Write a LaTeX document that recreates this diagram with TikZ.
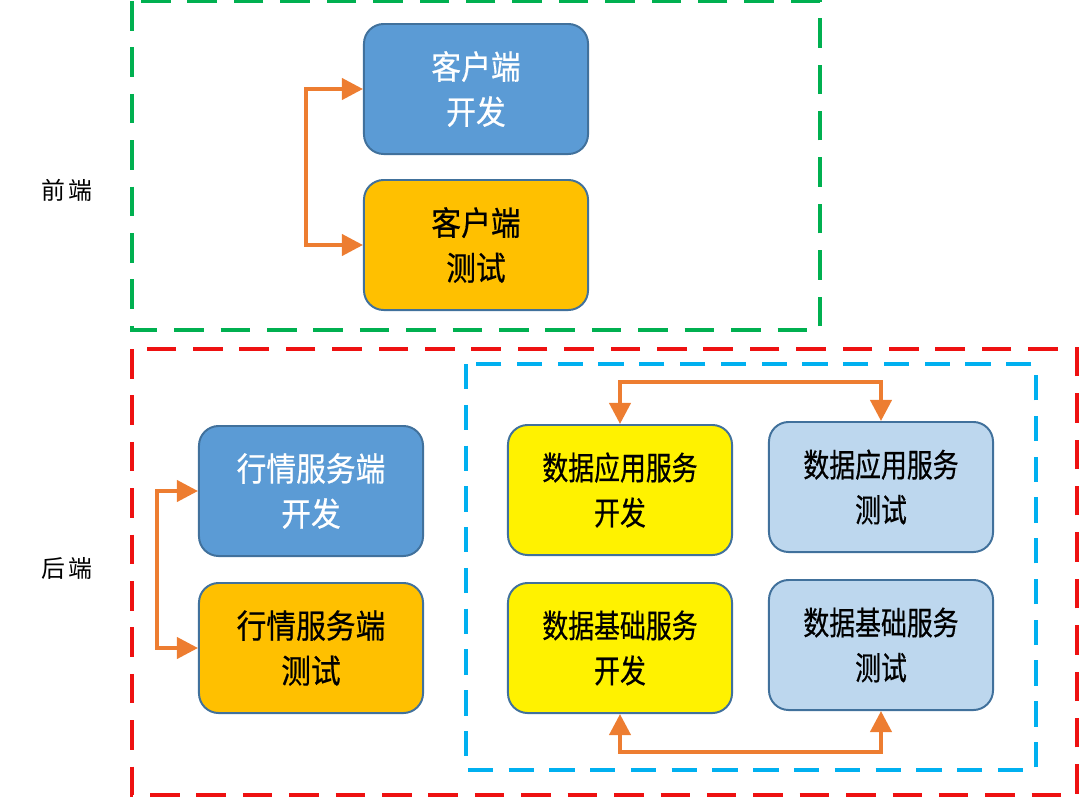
\documentclass[tikz,border=0pt]{standalone}
\usepackage{fontspec}
\setmainfont{Noto Sans CJK SC}
\newfontfamily\boxfont[FakeStretch=0.9,FakeBold=0.5]{Noto Sans CJK SC}
\newfontfamily\datafont[FakeStretch=0.8,FakeBold=0.5]{Noto Sans CJK SC}
\usetikzlibrary{arrows.meta}

\definecolor{devblue}{HTML}{5B9BD5}
\definecolor{edgeblue}{HTML}{41719C}
\definecolor{testorange}{HTML}{FFC000}
\definecolor{lightblue}{HTML}{BDD7EE}
\definecolor{flowline}{HTML}{ED7D31}
\definecolor{frontgreen}{HTML}{00B050}
\definecolor{backred}{HTML}{EE1111}
\definecolor{datacyan}{HTML}{00B0F0}

\tikzset{
    task/.style={draw=edgeblue,line width=1.4pt,rounded corners=14pt,
        minimum width=5.6cm,minimum height=3.25cm,align=center,
        font=\boxfont\fontsize{23.5}{32}\selectfont},
    datatask/.style={task,font=\datafont\fontsize{23}{32}\selectfont},
    flow/.style={draw=flowline,line width=2.8pt,{Triangle[length=15pt,width=15pt]}-{Triangle[length=15pt,width=15pt]}},
    zone/.style={line width=2.8pt,dash pattern=on 21pt off 12pt}
}

\begin{document}
\begin{tikzpicture}[x=0.025cm,y=-0.025cm]
    \useasboundingbox (0,0) rectangle (1080,798);
    % zones
    \draw[zone,frontgreen] (132,1) rectangle (820,330);
    \draw[zone,backred] (132,349) rectangle (1077,795);
    \draw[zone,datacyan,dash pattern=on 18pt off 11pt] (466,364) rectangle (1036,770);
    \node[font=\fontsize{17}{20}\selectfont] (front) at (67,190) {前\,端};
    \node[font=\fontsize{17}{20}\selectfont] (back) at (67,568) {后\,端};
    % client
    \node[task,fill=devblue,text=white] (cdev) at (476,89) {客户端\\开发};
    \node[task,fill=testorange] (ctest) at (476,245) {客户端\\测试};
    \draw[flow] (cdev.west) -- ++(-57,0) |- (ctest.west);
    % quote service
    \node[task,fill=devblue,text=white] (qdev) at (311,491) {行情服务端\\开发};
    \node[task,fill=testorange] (qtest) at (311,648) {行情服务端\\测试};
    \draw[flow] (qdev.west) -- ++(-41,0) |- (qtest.west);
    % data services
    \node[datatask,fill=yellow] (adev) at (620,490) {数据应用服务\\开发};
    \node[datatask,fill=lightblue] (atest) at (881,487) {数据应用服务\\测试};
    \node[datatask,fill=yellow] (bdev) at (620,648) {数据基础服务\\开发};
    \node[datatask,fill=lightblue] (btest) at (881,645) {数据基础服务\\测试};
    \draw[flow] (adev.north) -- ++(0,-42) -| (atest.north);
    \draw[flow] (bdev.south) -- ++(0,38) -| (btest.south);
\end{tikzpicture}
\end{document}
